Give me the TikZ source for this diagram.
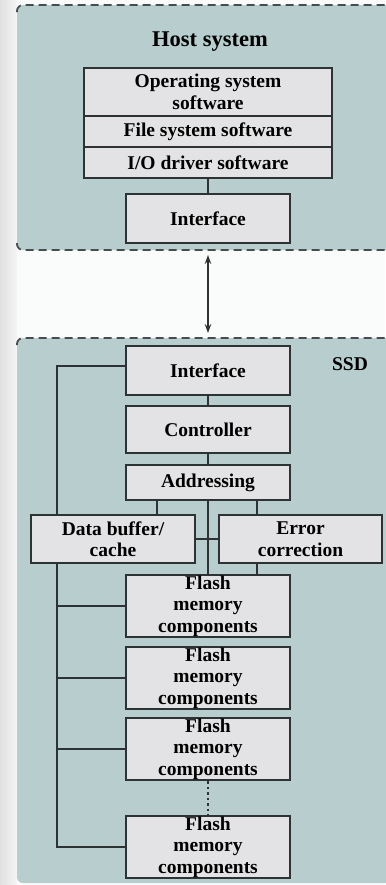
\documentclass[tikz,border=0pt]{standalone}
\usepackage{fontspec}
\setmainfont{Liberation Serif}
\usetikzlibrary{calc,arrows.meta}
\definecolor{regionfill}{RGB}{183,205,206}
\definecolor{boxfill}{RGB}{227,227,229}
\definecolor{linecol}{RGB}{45,50,52}
\definecolor{dashcol}{RGB}{70,76,79}
\definecolor{pagefill}{RGB}{250,251,251}
\pgfdeclarelayer{back}
\pgfdeclarelayer{wires}
\pgfsetlayers{back,wires,main}
\tikzset{
  block/.style={draw=linecol, fill=boxfill, line width=2bp, inner sep=0pt,
    align=center, font=\fontsize{19.5bp}{21.5bp}\selectfont\bfseries},
  wire/.style={draw=linecol, line width=2bp},
  regionedge/.style={draw=dashcol, line width=1.8bp, dash pattern=on 8bp off 5bp,
    rounded corners=6bp},
  title/.style={font=\fontsize{22.5bp}{25bp}\selectfont\bfseries, inner sep=0pt},
}
\begin{document}
\begin{tikzpicture}[x=1bp,y=-1bp]
\useasboundingbox (0,0) rectangle (385,885);

% ---------- background and the two regions ----------
\begin{pgfonlayer}{back}
  \fill[pagefill] (0,0) rectangle (385,885);
  \shade[left color=black!12, right color=black!4] (0,0) rectangle (17,885);
  \fill[regionfill, rounded corners=6bp] (17,5) rectangle (400,250);
  \fill[regionfill, rounded corners=6bp] (17,338) rectangle (400,883);
  \draw[regionedge] (17,12) |- (390,5);
  \draw[regionedge] (17,243) |- (390,250);
  \draw[regionedge] (17,345) |- (390,338);
\end{pgfonlayer}

% ---------- host system ----------
\node[title] (hosttitle) at (210,42) {Host system};
\node[block, minimum width=248bp, minimum height=48bp] (os) at (208,92)
  {Operating system\\software};
\node[block, minimum width=248bp, minimum height=31bp] (fs) at (208,131.5)
  {File system software};
\node[block, minimum width=248bp, minimum height=31bp] (io) at (208,162.5)
  {I/O driver software};
\node[block, minimum width=164bp, minimum height=49bp] (hif) at (208,218.5)
  {Interface};

% ---------- SSD ----------
\node[title, font=\fontsize{19.5bp}{21bp}\selectfont\bfseries] (ssdtitle) at (350,364) {SSD};
\node[block, minimum width=164bp, minimum height=49bp] (sif) at (208,370.5)
  {Interface};
\node[block, minimum width=164bp, minimum height=47bp] (ctl) at (208,429.5)
  {Controller};
\node[block, minimum width=164bp, minimum height=35bp] (adr) at (208,482.5)
  {Addressing};
\node[block, minimum width=164bp, minimum height=48bp] (dbuf) at (113,539)
  {Data buffer/\\cache};
\node[block, minimum width=163bp, minimum height=48bp] (ecc) at (300.5,539)
  {Error\\correction};
\node[block, minimum width=164bp, minimum height=62bp] (f1) at (208,606)
  {Flash\\memory\\components};
\node[block, minimum width=164bp, minimum height=62bp] (f2) at (208,678)
  {Flash\\memory\\components};
\node[block, minimum width=164bp, minimum height=62bp] (f3) at (208,749)
  {Flash\\memory\\components};
\node[block, minimum width=164bp, minimum height=62bp] (f4) at (208,847)
  {Flash\\memory\\components};

% free ends of the host link, on the two region edges
\coordinate (hostedge) at (208,255);
\coordinate (ssdedge) at (208,333);

% ---------- connectors ----------
\begin{pgfonlayer}{wires}
  \draw[wire] (io.south) -- (hif.north);
  \draw[wire, line width=1.6bp,
        {Stealth[length=9bp,width=6.5bp]}-{Stealth[length=9bp,width=6.5bp]}]
    (hostedge) -- (ssdedge);
  \draw[wire] (sif.south) -- (ctl.north);
  \draw[wire] (ctl.south) -- (adr.north);
  \draw[wire] ($(adr.south west)!0.195122!(adr.south east)$) coordinate (ta)
    -- (ta |- dbuf.north);
  \draw[wire] ($(adr.south west)!0.792683!(adr.south east)$) coordinate (tb)
    -- (tb |- ecc.north);
  \draw[wire] (adr.south) -- (f1.north);
  \draw[wire] (dbuf.east) -- (ecc.west);
  \draw[wire] (tb |- ecc.south) -- (tb |- f1.north);
  \draw[wire, dash pattern=on 2.5bp off 3bp] (f3.south) -- (f4.north);
  % shared bus on the left
  \draw[wire] ([yshift=4.5bp]sif.west) -- ++(-68,0) coordinate (bus)
    -- (bus |- f4.west) -- (f4.west);
  \draw[wire] (bus |- f1.west) -- (f1.west);
  \draw[wire] (bus |- f2.west) -- (f2.west);
  \draw[wire] (bus |- f3.west) -- (f3.west);
\end{pgfonlayer}
\end{tikzpicture}
\end{document}
